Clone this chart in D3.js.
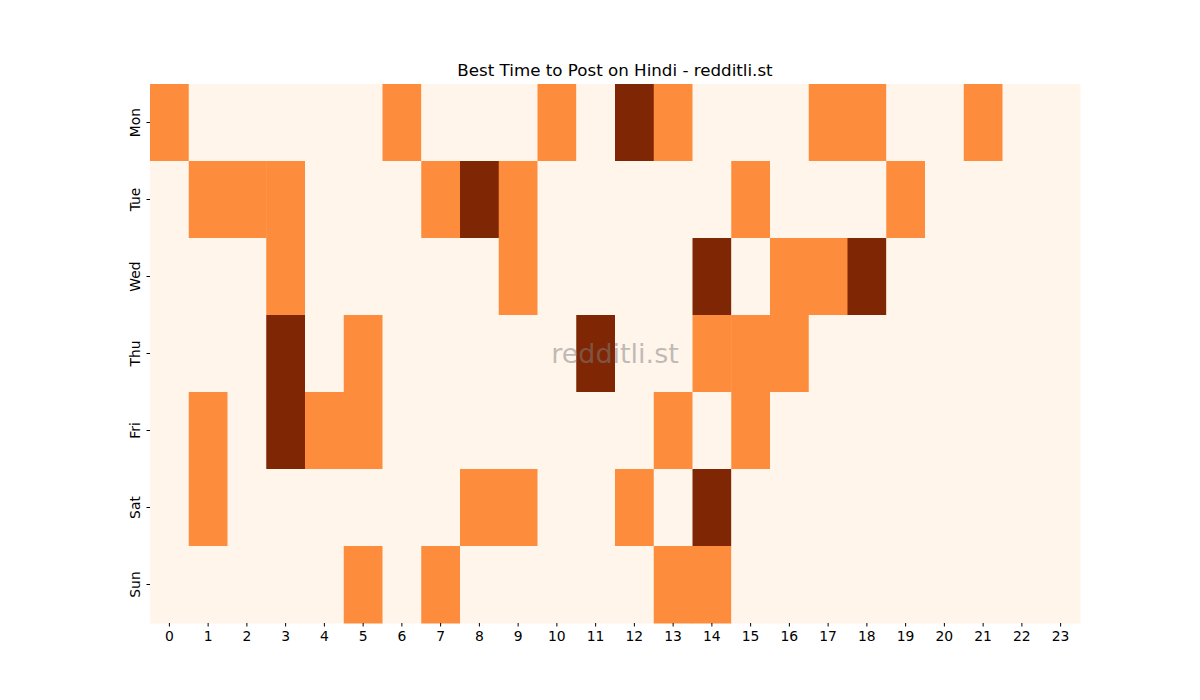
<!DOCTYPE html>
<html>
<head>
<meta charset="utf-8">
<script src="https://d3js.org/d3.v7.min.js"></script>
<style>
  body { margin: 0; background: #fff; }
  text { font-family: "DejaVu Sans", sans-serif; }
</style>
</head>
<body>
<div id="container"></div>
<script>
// heatmap data: 0 = quiet, 1 = good, 2 = best
var days = ["Mon", "Tue", "Wed", "Thu", "Fri", "Sat", "Sun"];
var hours = d3.range(24);
var mon = [1,0,0,0,0,0,1,0,0,0,1,0,2,1,0,0,0,1,1,0,0,1,0,0];
var tue = [0,1,1,1,0,0,0,1,2,1,0,0,0,0,0,1,0,0,0,1,0,0,0,0];
var wed = [0,0,0,1,0,0,0,0,0,1,0,0,0,0,2,0,1,1,2,0,0,0,0,0];
var thu = [0,0,0,2,0,1,0,0,0,0,0,2,0,0,1,1,1,0,0,0,0,0,0,0];
var fri = [0,1,0,2,1,1,0,0,0,0,0,0,0,1,0,1,0,0,0,0,0,0,0,0];
var sat = [0,1,0,0,0,0,0,0,1,1,0,0,1,0,2,0,0,0,0,0,0,0,0,0];
var sun = [0,0,0,0,0,1,0,1,0,0,0,0,0,1,1,0,0,0,0,0,0,0,0,0];
var rows = [mon, tue, wed, thu, fri, sat, sun];

var title = "Best Time to Post on Hindi - redditli.st";
var watermark = "redditli.st";

var w = 1200, h = 700;
var margin = {top: 84, right: 120, bottom: 77, left: 150};
var iw = w - margin.left - margin.right;
var ih = h - margin.top - margin.bottom;

var svg = d3.select("#container")
  .append("svg")
  .attr("width", w)
  .attr("height", h);

var g = svg.append("g")
  .attr("transform", "translate(" + margin.left + "," + margin.top + ")");

var x = d3.scaleBand().domain(hours).range([0, iw]);
var y = d3.scaleBand().domain(days).range([0, ih]);
var color = d3.scaleOrdinal().domain([0, 1, 2]).range(["#fff5eb", "#fd8d3c", "#7f2704"]);

var cells = [];
rows.forEach(function(r, i) {
  r.forEach(function(v, j) {
    cells.push({day: days[i], hour: hours[j], value: v});
  });
});

g.selectAll("rect.cell")
  .data(cells)
  .enter().append("rect")
  .attr("class", "cell")
  .attr("x", function(d) { return x(d.hour); })
  .attr("y", function(d) { return y(d.day); })
  .attr("width", x.bandwidth() + 0.5)
  .attr("height", y.bandwidth() + 0.5)
  .attr("fill", function(d) { return color(d.value); });

// axes
var xAxis = g.append("g")
  .attr("transform", "translate(0," + ih + ")")
  .call(d3.axisBottom(x).tickSize(3.5).tickPadding(5));
xAxis.select(".domain").remove();
xAxis.selectAll("text").style("font-size", "13.9px").attr("fill", "#000");

var yAxis = g.append("g")
  .call(d3.axisLeft(y).tickSize(3.5).tickPadding(5));
yAxis.select(".domain").remove();
yAxis.selectAll("text")
  .style("font-size", "13.9px")
  .attr("fill", "#000")
  .attr("text-anchor", "middle")
  .attr("dy", 0)
  .attr("transform", "translate(-10,0) rotate(-90)")
  .attr("x", 0);

svg.append("text")
  .attr("x", margin.left + iw / 2)
  .attr("y", 76)
  .attr("text-anchor", "middle")
  .style("font-size", "16.7px")
  .text(title);

g.append("text")
  .attr("x", iw / 2)
  .attr("y", ih / 2 + 9)
  .attr("text-anchor", "middle")
  .style("font-size", "27px")
  .attr("fill", "rgba(128,128,128,0.5)")
  .text(watermark);
</script>
</body>
</html>
